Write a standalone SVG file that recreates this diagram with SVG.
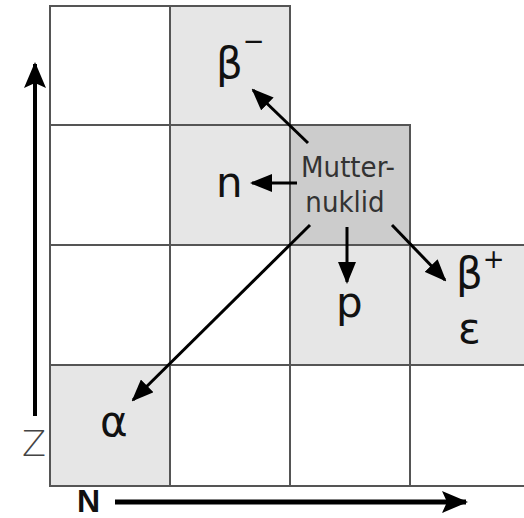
<svg xmlns="http://www.w3.org/2000/svg" width="524" height="518" viewBox="0 0 524 518">
  <style>
    .light { fill: #e6e6e6; }
    .mother { fill: #cccccc; }
    .grid { stroke: #555555; stroke-width: 2; fill: none; }
    .lbl { font-family: "DejaVu Sans", sans-serif; font-size: 42px; fill: #111111; }
    .sup { font-family: "DejaVu Sans", sans-serif; font-size: 26px; fill: #111111; }
    .mt { font-family: "DejaVu Sans Condensed", "DejaVu Sans", sans-serif; font-size: 29px; fill: #333333; text-anchor: middle; }
    .conn { stroke: #000000; stroke-width: 3; fill: none; }
  </style>
  <defs>
    <marker id="ah" markerUnits="userSpaceOnUse" markerWidth="22" markerHeight="18" refX="20" refY="9" orient="auto">
      <path d="M0,0 L22,9 L0,18 z" fill="#000000"/>
    </marker>
    <marker id="axh" markerUnits="userSpaceOnUse" markerWidth="26" markerHeight="22" refX="24" refY="11" orient="auto">
      <path d="M0,0 L26,11 L0,22 L5,11 z" fill="#000000"/>
    </marker>
  </defs>
  <rect x="0" y="0" width="524" height="518" fill="#ffffff"/>

  <g id="cell-beta-minus">
    <rect class="light" x="170" y="6" width="120" height="119"/>
    <text class="lbl" x="216" y="78">β<tspan class="sup" dy="-28">−</tspan></text>
  </g>
  <g id="cell-n">
    <rect class="light" x="170" y="125" width="120" height="120"/>
    <text class="lbl" x="216" y="197">n</text>
  </g>
  <g id="cell-mutternuklid">
    <rect class="mother" x="290" y="125" width="120" height="120"/>
    <text class="mt" x="348" y="177">Mutter-</text>
    <text class="mt" x="345" y="212">nuklid</text>
  </g>
  <g id="cell-p">
    <rect class="light" x="290" y="245" width="120" height="120"/>
    <text class="lbl" x="336" y="317">p</text>
  </g>
  <g id="cell-beta-plus">
    <rect class="light" x="410" y="245" width="114" height="120"/>
    <text class="lbl" x="456" y="288">β<tspan class="sup" dy="-20">+</tspan></text>
    <text class="lbl" x="458" y="343">ε</text>
  </g>
  <g id="cell-alpha">
    <rect class="light" x="50" y="365" width="120" height="121"/>
    <text class="lbl" x="100" y="436">α</text>
  </g>

  <g id="grid" class="grid">
    <line x1="49" y1="6" x2="291" y2="6"/>
    <line x1="49" y1="125" x2="411" y2="125"/>
    <line x1="49" y1="245" x2="524" y2="245"/>
    <line x1="49" y1="365" x2="524" y2="365"/>
    <line x1="49" y1="486" x2="524" y2="486"/>
    <line x1="50" y1="5" x2="50" y2="487"/>
    <line x1="170" y1="5" x2="170" y2="487"/>
    <line x1="290" y1="5" x2="290" y2="487"/>
    <line x1="410" y1="124" x2="410" y2="487"/>
  </g>

  <g id="axes">
    <line x1="35" y1="416" x2="35" y2="64" stroke="#000" stroke-width="4" marker-end="url(#axh)"/>
    <text x="34" y="456" font-family="DejaVu Sans, sans-serif" font-size="35" font-weight="200" fill="#444" text-anchor="middle">Z</text>
    <line x1="115" y1="502" x2="466" y2="502" stroke="#000" stroke-width="5" marker-end="url(#axh)"/>
    <text x="77" y="512" font-family="Liberation Sans, Arial, sans-serif" font-size="32" font-weight="bold" fill="#111">N</text>
  </g>

  <g id="connectors">
    <line class="conn" x1="308" y1="143" x2="253" y2="90" marker-end="url(#ah)"/>
    <line class="conn" x1="297" y1="183" x2="252" y2="183" marker-end="url(#ah)"/>
    <line class="conn" x1="347" y1="227" x2="347" y2="282" marker-end="url(#ah)"/>
    <line class="conn" x1="392" y1="225" x2="445" y2="280" marker-end="url(#ah)"/>
    <line class="conn" x1="310" y1="225" x2="133" y2="400" marker-end="url(#ah)"/>
  </g>
</svg>
